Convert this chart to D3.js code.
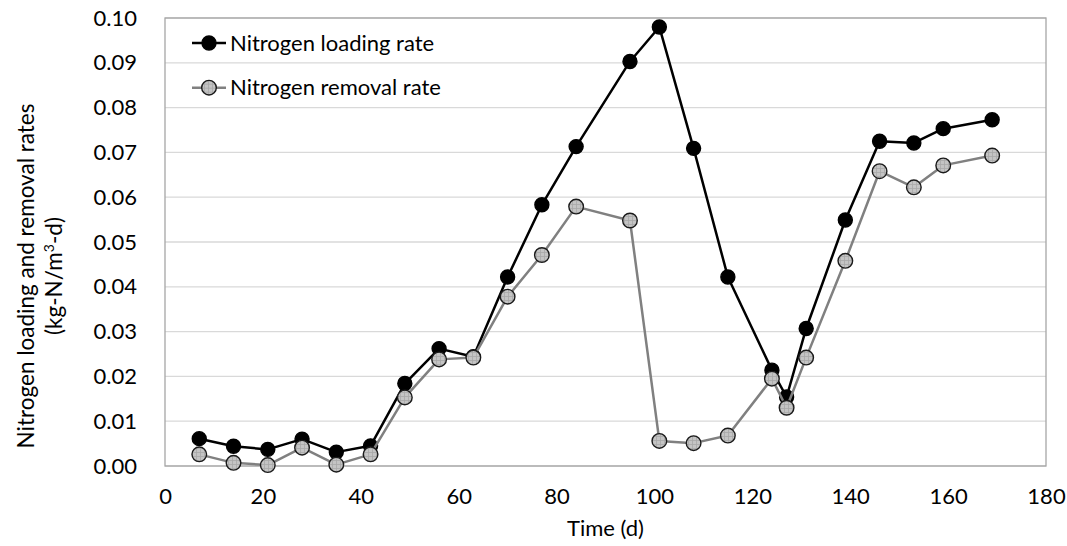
<!DOCTYPE html>
<html>
<head>
<meta charset="utf-8">
<script src="https://cdn.jsdelivr.net/npm/d3@7"></script>
<style>
    body { margin: 0; background: #fff; }
    text { font-family: Lato, 'Open Sans', sans-serif; fill: #000; }
</style>
</head>
<body>
<div id="d3-container"></div>
<script>
// sampling days
const days = [7, 14, 21, 28, 35, 42, 49, 56, 63, 70, 77, 84, 95, 101, 108, 115, 124, 127, 131, 139, 146, 153, 159, 169];

// kg-N/m3-d
const loadingRate = [0.0061, 0.0044, 0.0037, 0.0060, 0.0031, 0.0045, 0.0184, 0.0262, 0.0244, 0.0422, 0.0583, 0.0713,
    0.0903, 0.0980, 0.0709, 0.0422, 0.0214, 0.0154, 0.0307, 0.0549, 0.0725, 0.0721, 0.0753, 0.0773];
const removalRate = [0.0026, 0.0007, 0.0002, 0.0041, 0.0003, 0.0026, 0.0153, 0.0238, 0.0242, 0.0378, 0.0471, 0.0579,
    0.0548, 0.0056, 0.0051, 0.0068, 0.0195, 0.0130, 0.0242, 0.0458, 0.0658, 0.0622, 0.0671, 0.0693];

const seriesNames = ['Nitrogen loading rate', 'Nitrogen removal rate'];
const xTicks = [0, 20, 40, 60, 80, 100, 120, 140, 160, 180];
const yTicks = [0, 0.01, 0.02, 0.03, 0.04, 0.05, 0.06, 0.07, 0.08, 0.09, 0.10];

const width = 1067;
const height = 546;
const margin = { top: 18, bottom: 80, left: 165, right: 21 };

const svg = d3.select('#d3-container')
    .append('svg')
    .attr('width', width)
    .attr('height', height);

// hatched fill used by the removal-rate markers
const pat = svg.append('defs').append('pattern')
    .attr('id', 'hatch')
    .attr('patternUnits', 'userSpaceOnUse')
    .attr('width', 4)
    .attr('height', 4);
pat.append('rect').attr('width', 4).attr('height', 4).attr('fill', '#c4c4c4');
pat.append('path').attr('d', 'M0,0.5H4M0.5,0V4').attr('stroke', '#a8a8a8').attr('stroke-width', 0.8);

const x = d3.scaleLinear()
    .domain([0, 180])
    .range([margin.left, width - margin.right]);

const y = d3.scaleLinear()
    .domain([0, 0.10])
    .range([height - margin.bottom, margin.top]);

// gridlines
svg.append('g')
    .selectAll('line')
    .data(yTicks)
    .join('line')
    .attr('x1', x(0))
    .attr('x2', x(180))
    .attr('y1', d => y(d))
    .attr('y2', d => y(d))
    .attr('stroke', '#d9d9d9')
    .attr('stroke-width', 1.3);

// plot area border
svg.append('rect')
    .attr('x', x(0))
    .attr('y', y(0.10))
    .attr('width', x(180) - x(0))
    .attr('height', y(0) - y(0.10))
    .attr('fill', 'none')
    .attr('stroke', '#a6a6a6')
    .attr('stroke-width', 1.3);

let yAxis = (g) => {
    g.attr('transform', `translate(${x(0) - 9}, 0)`)
        .call(d3.axisLeft(y).tickValues(yTicks).tickFormat(d3.format('.2f')).tickSize(0).tickPadding(19))
        .attr('font-size', '22px')
        .call(g => g.select('.domain').remove());
};

let xAxis = (g) => {
    g.attr('transform', `translate(0,${y(0)})`)
        .call(d3.axisBottom(x).tickValues(xTicks).tickSize(0).tickPadding(22))
        .attr('font-size', '22px')
        .call(g => g.select('.domain').remove());
};

svg.append('g').call(xAxis);
svg.append('g').call(yAxis);
svg.selectAll('.tick text').attr('fill', '#000').style('font-family', 'Lato, sans-serif');

// axis titles
svg.append('text')
    .attr('x', x(90))
    .attr('y', 536)
    .attr('text-anchor', 'middle')
    .attr('font-size', '22px')
    .text('Time (d)');

const yTitle = svg.append('text')
    .attr('transform', 'translate(0,276) rotate(-90)')
    .attr('text-anchor', 'middle')
    .attr('font-size', '22.5px');
yTitle.append('tspan')
    .attr('x', 0)
    .attr('y', 34)
    .text('Nitrogen loading and removal rates');
const l2 = yTitle.append('tspan')
    .attr('x', 0)
    .attr('y', 62);
l2.append('tspan').text('(kg-N/m');
l2.append('tspan').attr('dy', -8).attr('font-size', '14px').text('3');
l2.append('tspan').attr('dy', 8).text('-d)');

const line = d3.line()
    .x((d, i) => x(days[i]))
    .y(d => y(d));

const series = [
    { name: seriesNames[0], values: loadingRate, line: '#000', fill: '#000', stroke: '#000', r: 7 },
    { name: seriesNames[1], values: removalRate, line: '#808080', fill: 'url(#hatch)', stroke: '#1a1a1a', r: 7.3 },
];

series.forEach(s => {
    svg.append('path')
        .datum(s.values)
        .attr('d', line)
        .attr('fill', 'none')
        .attr('stroke', s.line)
        .attr('stroke-width', 2.5)
        .attr('stroke-linejoin', 'round');

    svg.append('g')
        .selectAll('circle')
        .data(s.values)
        .join('circle')
        .attr('cx', (d, i) => x(days[i]))
        .attr('cy', d => y(d))
        .attr('r', s.r)
        .attr('fill', s.fill)
        .attr('stroke', s.stroke)
        .attr('stroke-width', 1.4);
});

// legend
const legend = svg.append('g')
    .selectAll('g')
    .data(series)
    .join('g')
    .attr('transform', (d, i) => `translate(192, ${43 + i * 44.7})`);

legend.append('line')
    .attr('x1', 0)
    .attr('x2', 34)
    .attr('stroke', d => d.line)
    .attr('stroke-width', 2.5);

legend.append('circle')
    .attr('cx', 17)
    .attr('r', d => d.r)
    .attr('fill', d => d.fill)
    .attr('stroke', d => d.stroke)
    .attr('stroke-width', 1.4);

legend.append('text')
    .attr('x', 38)
    .attr('dy', '0.35em')
    .attr('font-size', '22px')
    .text(d => d.name);
</script>
</body>
</html>
